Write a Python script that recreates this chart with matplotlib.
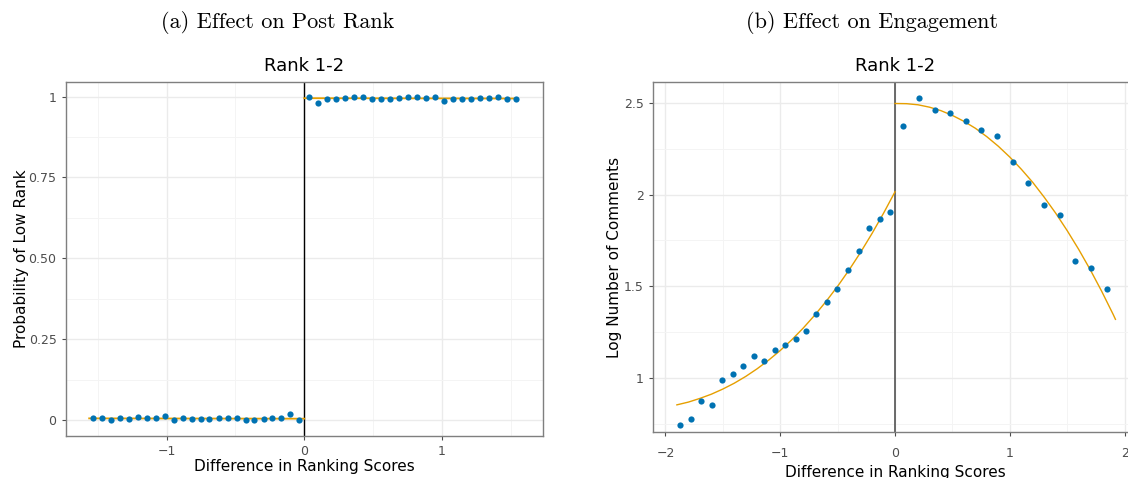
import matplotlib
matplotlib.use('Agg')
import matplotlib.pyplot as plt
from matplotlib.ticker import MultipleLocator

# (a) 排名效应: 分箱点
rank_x_left = [-1.538, -1.473, -1.407, -1.342, -1.277, -1.211, -1.146, -1.081,
               -1.015, -0.950, -0.885, -0.819, -0.754, -0.689, -0.623, -0.558,
               -0.492, -0.427, -0.362, -0.296, -0.231, -0.166, -0.100, -0.035]
rank_y_left = [0.007, 0.007, 0.000, 0.005, 0.004, 0.008, 0.007, 0.006,
               0.013, 0.000, 0.005, 0.002, 0.002, 0.004, 0.006, 0.007,
               0.007, 0.001, 0.001, 0.004, 0.007, 0.006, 0.020, -0.001]
rank_x_right = [0.035, 0.100, 0.166, 0.231, 0.296, 0.362, 0.427, 0.492,
                0.558, 0.623, 0.689, 0.754, 0.819, 0.885, 0.950, 1.015,
                1.081, 1.146, 1.211, 1.277, 1.342, 1.407, 1.473, 1.538]
rank_y_right = [1.000, 0.980, 0.994, 0.993, 0.996, 0.998, 0.999, 0.994,
                0.993, 0.994, 0.996, 0.998, 0.999, 0.996, 1.000, 0.987,
                0.993, 0.993, 0.992, 0.995, 0.995, 1.000, 0.993, 0.992]
rank_fit_x_left = [-1.564, 0.0]
rank_fit_y_left = [0.005, 0.004]
rank_fit_x_right = [0.0, 1.55]
rank_fit_y_right = [0.995, 0.994]

# (b) 参与度效应
eng_x_left = [-1.871, -1.778, -1.689, -1.596, -1.506, -1.413, -1.320, -1.231,
              -1.141, -1.048, -0.958, -0.865, -0.775, -0.686, -0.593, -0.503,
              -0.410, -0.317, -0.228, -0.135, -0.045]
eng_y_left = [0.742, 0.778, 0.875, 0.851, 0.989, 1.024, 1.064, 1.122,
              1.095, 1.155, 1.180, 1.211, 1.256, 1.347, 1.416, 1.484,
              1.591, 1.691, 1.818, 1.867, 1.905]
eng_x_right = [0.069, 0.207, 0.344, 0.479, 0.617, 0.751, 0.889, 1.027,
               1.162, 1.299, 1.437, 1.572, 1.710, 1.847]
eng_y_right = [2.376, 2.527, 2.462, 2.445, 2.402, 2.353, 2.320, 2.176,
               2.062, 1.942, 1.887, 1.636, 1.602, 1.484]
eng_fit_x_left = [-1.9, -1.8, -1.7, -1.6, -1.5, -1.4, -1.3, -1.2, -1.1, -1.0,
                  -0.9, -0.8, -0.7, -0.6, -0.5, -0.4, -0.3, -0.2, -0.1, 0.0]
eng_fit_y_left = [0.854, 0.869, 0.889, 0.912, 0.940, 0.972, 1.009, 1.051, 1.098, 1.150,
                  1.208, 1.272, 1.342, 1.418, 1.500, 1.589, 1.685, 1.788, 1.898, 2.015]
eng_fit_x_right = [0.0, 0.1, 0.2, 0.3, 0.4, 0.5, 0.6, 0.7, 0.8, 0.9, 1.0,
                   1.1, 1.2, 1.3, 1.4, 1.5, 1.6, 1.7, 1.8, 1.9, 1.92]
eng_fit_y_right = [2.496, 2.495, 2.489, 2.476, 2.457, 2.431, 2.399, 2.361, 2.315, 2.263, 2.204,
                   2.138, 2.066, 1.985, 1.898, 1.803, 1.701, 1.591, 1.473, 1.347, 1.320]

pt_color = '#0072B2'
fit_color = '#E69F00'
grid_color = '#EBEBEB'
tick_color = '#4D4D4D'


def style_axes(ax, major_x, major_y, xpad=3.5):
    ax.xaxis.set_major_locator(MultipleLocator(major_x))
    ax.xaxis.set_minor_locator(MultipleLocator(major_x / 2))
    ax.yaxis.set_major_locator(MultipleLocator(major_y))
    ax.yaxis.set_minor_locator(MultipleLocator(major_y / 2))
    ax.grid(which='major', color=grid_color, lw=1.0)
    ax.grid(which='minor', color='#F4F4F4', lw=0.7)
    ax.set_axisbelow(True)
    ax.tick_params(which='major', length=3, color=tick_color, labelcolor=tick_color, labelsize=9, width=0.8)
    ax.tick_params(axis='x', which='major', pad=xpad)
    ax.tick_params(which='minor', length=0)
    for s in ax.spines.values():
        s.set_color('#7F7F7F')
        s.set_linewidth(1.0)


fig = plt.figure(figsize=(11.28, 4.78), dpi=100)

# 左图
ax1 = fig.add_axes([0.0582, 0.0879, 0.4229, 0.7412])
ax1.axvline(0, color='black', lw=1.0, zorder=2)
ax1.plot(rank_fit_x_left, rank_fit_y_left, color=fit_color, lw=1.3, zorder=3)
ax1.plot(rank_fit_x_right, rank_fit_y_right, color=fit_color, lw=1.3, zorder=3)
ax1.scatter(rank_x_left + rank_x_right, rank_y_left + rank_y_right, s=20, color=pt_color, zorder=4, linewidths=0)
ax1.set_xlim(-1.735, 1.734)
ax1.set_ylim(-0.0495, 1.046)
style_axes(ax1, 1, 0.25)
ax1.set_yticks([0, 0.25, 0.5, 0.75, 1])
ax1.set_yticklabels(['0', '0.25', '0.50', '0.75', '1'])
ax1.set_xlabel('Difference in Ranking Scores', fontsize=11, labelpad=1)
ax1.set_ylabel('Probability of Low Rank', fontsize=11, labelpad=0)
ax1.set_title('Rank 1-2', fontsize=13, pad=8)

# 右图
ax2 = fig.add_axes([0.5789, 0.0962, 0.4291, 0.7322])
ax2.axvline(0, color='#444444', lw=1.1, zorder=2)
ax2.plot(eng_fit_x_left, eng_fit_y_left, color=fit_color, lw=1.0, zorder=3)
ax2.plot(eng_fit_x_right, eng_fit_y_right, color=fit_color, lw=1.0, zorder=3)
ax2.scatter(eng_x_left + eng_x_right, eng_y_left + eng_y_right, s=20, color=pt_color, zorder=4, linewidths=0)
ax2.set_xlim(-2.108, 2.108)
ax2.set_ylim(0.706, 2.613)
style_axes(ax2, 1, 0.5, xpad=7.5)
ax2.set_yticks([1, 1.5, 2, 2.5])
ax2.set_yticklabels(['1', '1.5', '2', '2.5'])
ax2.set_xlabel('Difference in Ranking Scores', fontsize=11, labelpad=4)
ax2.set_ylabel('Log Number of Comments', fontsize=11, labelpad=1.5)
ax2.set_title('Rank 1-2', fontsize=13, pad=8)

fig.text(0.2465, 0.952, '(a) Effect on Post Rank', fontsize=16, family='cmr10', ha='center', va='center')
fig.text(0.773, 0.952, '(b) Effect on Engagement', fontsize=16, family='cmr10', ha='center', va='center')

fig.savefig('out.png', dpi=100)
